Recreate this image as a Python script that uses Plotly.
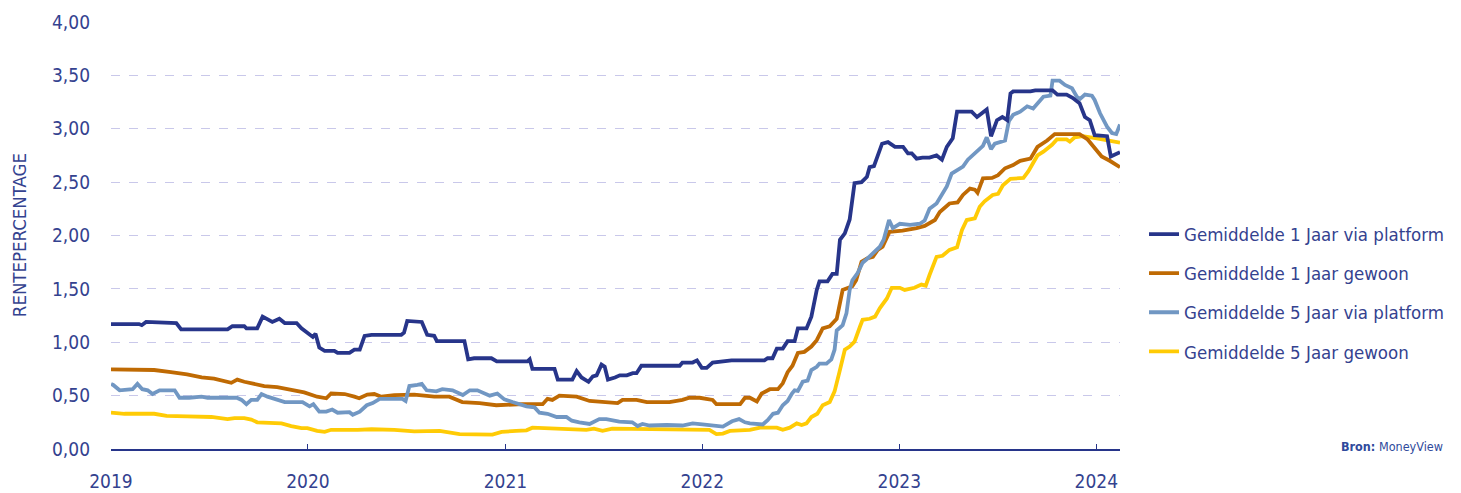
import plotly.graph_objects as go

# ---------------- data ----------------
dates_1y_platform = [
    "2019-01-01", "2019-02-22", "2019-02-27", "2019-03-07", "2019-05-02", "2019-05-11",
    "2019-08-05", "2019-08-14", "2019-09-05", "2019-09-09", "2019-09-29", "2019-10-09",
    "2019-10-27", "2019-11-09", "2019-11-19", "2019-12-11", "2019-12-20", "2020-01-04",
    "2020-01-10", "2020-01-15", "2020-01-22", "2020-02-01", "2020-02-19", "2020-02-25",
    "2020-03-18", "2020-03-27", "2020-04-06", "2020-04-15", "2020-04-28", "2020-06-22",
    "2020-06-27", "2020-07-03", "2020-07-30", "2020-08-09", "2020-08-22", "2020-08-27",
    "2020-10-17", "2020-10-24", "2020-11-04", "2020-12-06", "2020-12-16", "2021-02-11",
    "2021-02-15", "2021-02-20", "2021-04-02", "2021-04-08", "2021-05-05", "2021-05-13",
    "2021-05-22", "2021-06-04", "2021-06-12", "2021-06-19", "2021-06-28", "2021-07-04",
    "2021-07-10", "2021-07-23", "2021-08-01", "2021-08-14", "2021-08-25", "2021-09-01",
    "2021-09-10", "2021-11-20", "2021-11-25", "2021-12-14", "2021-12-22", "2021-12-31",
    "2022-01-09", "2022-01-20", "2022-02-15", "2022-02-24", "2022-04-26", "2022-05-02",
    "2022-05-11", "2022-05-19", "2022-05-30", "2022-06-08", "2022-06-21", "2022-06-27",
    "2022-07-13", "2022-07-22", "2022-08-01", "2022-08-06", "2022-08-21", "2022-08-30",
    "2022-09-07", "2022-09-13", "2022-09-22", "2022-10-01", "2022-10-10", "2022-10-23",
    "2022-11-02", "2022-11-07", "2022-11-15", "2022-11-22", "2022-11-30", "2022-12-11",
    "2022-12-24", "2023-01-08", "2023-01-17", "2023-01-24", "2023-02-02", "2023-02-13",
    "2023-02-26", "2023-03-11", "2023-03-21", "2023-03-30", "2023-04-10", "2023-04-18",
    "2023-05-15", "2023-05-25", "2023-06-03", "2023-06-12", "2023-06-20", "2023-07-01",
    "2023-07-11", "2023-07-20", "2023-07-26", "2023-07-31", "2023-09-01", "2023-09-10",
    "2023-10-12", "2023-10-21", "2023-11-07", "2023-11-18", "2023-12-01", "2023-12-11",
    "2023-12-20", "2023-12-29", "2024-01-21", "2024-01-28", "2024-02-14",
]
values_1y_platform = [
    1.17, 1.17, 1.16, 1.19, 1.18, 1.12,
    1.12, 1.15, 1.15, 1.13, 1.13, 1.24,
    1.19, 1.22, 1.18, 1.18, 1.13, 1.08,
    1.05, 1.08, 0.95, 0.92, 0.92, 0.90,
    0.90, 0.93, 0.93, 1.06, 1.07, 1.07,
    1.09, 1.20, 1.19, 1.07, 1.06, 1.01,
    1.01, 0.84, 0.85, 0.85, 0.82, 0.82,
    0.84, 0.75, 0.75, 0.65, 0.65, 0.73,
    0.67, 0.63, 0.68, 0.69, 0.79, 0.77,
    0.65, 0.67, 0.69, 0.69, 0.71, 0.71,
    0.78, 0.78, 0.81, 0.81, 0.83, 0.76,
    0.76, 0.81, 0.82, 0.83, 0.83, 0.85,
    0.85, 0.94, 0.94, 1.01, 1.01, 1.13,
    1.13, 1.24, 1.49, 1.57, 1.57, 1.64,
    1.64, 1.96, 2.02, 2.15, 2.49, 2.50,
    2.55, 2.64, 2.65, 2.75, 2.86, 2.875,
    2.83, 2.83, 2.77, 2.77, 2.72, 2.73,
    2.73, 2.75, 2.71, 2.83, 2.91, 3.16,
    3.16, 3.11, 3.14, 3.18, 2.93, 3.08,
    3.11, 3.08, 3.33, 3.35, 3.35, 3.36,
    3.36, 3.32, 3.32, 3.29, 3.24, 3.11,
    3.08, 2.94, 2.93, 2.74, 2.78,
]

dates_1y_gewoon = [
    "2019-01-01", "2019-02-08", "2019-03-22", "2019-04-22", "2019-05-22", "2019-06-18",
    "2019-07-11", "2019-08-12", "2019-08-23", "2019-09-05", "2019-09-20", "2019-10-12",
    "2019-11-05", "2019-12-01", "2019-12-25", "2020-01-18", "2020-02-04", "2020-02-13",
    "2020-03-09", "2020-03-27", "2020-04-05", "2020-04-20", "2020-05-03", "2020-05-16",
    "2020-06-09", "2020-07-16", "2020-08-22", "2020-09-19", "2020-10-13", "2020-11-14",
    "2020-12-15", "2021-02-02", "2021-03-11", "2021-03-20", "2021-03-29", "2021-04-11",
    "2021-05-13", "2021-06-06", "2021-06-30", "2021-07-28", "2021-08-06", "2021-09-01",
    "2021-09-20", "2021-11-01", "2021-11-25", "2021-12-08", "2021-12-27", "2022-01-20",
    "2022-01-27", "2022-03-12", "2022-03-21", "2022-03-30", "2022-04-12", "2022-04-21",
    "2022-05-06", "2022-05-21", "2022-05-30", "2022-06-08", "2022-06-17", "2022-06-27",
    "2022-07-09", "2022-07-22", "2022-08-01", "2022-08-12", "2022-08-25", "2022-09-07",
    "2022-09-18", "2022-09-27", "2022-10-06", "2022-10-13", "2022-10-23", "2022-11-02",
    "2022-11-13", "2022-11-22", "2022-12-01", "2022-12-14", "2023-01-07", "2023-02-02",
    "2023-02-17", "2023-03-08", "2023-03-17", "2023-04-04", "2023-04-19", "2023-04-29",
    "2023-05-12", "2023-05-21", "2023-05-26", "2023-06-05", "2023-06-22", "2023-07-03",
    "2023-07-16", "2023-07-31", "2023-08-13", "2023-09-01", "2023-09-14", "2023-10-02",
    "2023-10-16", "2023-11-13", "2023-12-01", "2023-12-16", "2023-12-29", "2024-01-11",
    "2024-01-26", "2024-02-14",
]
values_1y_gewoon = [
    0.745, 0.745, 0.74, 0.72, 0.70, 0.67,
    0.66, 0.62, 0.65, 0.63, 0.61, 0.59,
    0.58, 0.55, 0.53, 0.49, 0.475, 0.52,
    0.515, 0.49, 0.475, 0.51, 0.515, 0.49,
    0.505, 0.51, 0.49, 0.49, 0.44, 0.43,
    0.41, 0.42, 0.42, 0.47, 0.46, 0.50,
    0.49, 0.45, 0.44, 0.43, 0.46, 0.46,
    0.44, 0.44, 0.46, 0.48, 0.48, 0.46,
    0.42, 0.42, 0.48, 0.48, 0.445, 0.52,
    0.56, 0.56, 0.615, 0.72, 0.78, 0.90,
    0.91, 0.96, 1.02, 1.13, 1.15, 1.22,
    1.49, 1.51, 1.525, 1.58, 1.755, 1.785,
    1.80, 1.865, 1.895, 2.035, 2.045, 2.07,
    2.09, 2.145, 2.22, 2.30, 2.31, 2.38,
    2.44, 2.43, 2.40, 2.535, 2.54, 2.565,
    2.63, 2.66, 2.70, 2.72, 2.83, 2.89,
    2.95, 2.95, 2.95, 2.90, 2.82, 2.74,
    2.70, 2.64,
]

dates_5y_platform = [
    "2019-01-01", "2019-01-05", "2019-01-17", "2019-02-10", "2019-02-19", "2019-02-28",
    "2019-03-10", "2019-03-19", "2019-04-01", "2019-04-29", "2019-05-08", "2019-05-26",
    "2019-06-18", "2019-06-29", "2019-08-22", "2019-08-31", "2019-09-09", "2019-09-18",
    "2019-09-29", "2019-10-07", "2019-10-18", "2019-10-31", "2019-11-19", "2019-12-22",
    "2020-01-04", "2020-01-11", "2020-01-22", "2020-02-04", "2020-02-15", "2020-02-25",
    "2020-03-18", "2020-03-24", "2020-04-06", "2020-04-19", "2020-04-30", "2020-05-13",
    "2020-06-24", "2020-06-30", "2020-07-07", "2020-07-22", "2020-07-30", "2020-08-08",
    "2020-08-26", "2020-09-06", "2020-09-25", "2020-10-14", "2020-10-27", "2020-11-10",
    "2020-12-03", "2020-12-17", "2020-12-30", "2021-01-14", "2021-02-09", "2021-02-24",
    "2021-03-05", "2021-03-20", "2021-04-06", "2021-04-24", "2021-05-04", "2021-05-18",
    "2021-06-06", "2021-06-24", "2021-07-07", "2021-07-31", "2021-08-24", "2021-09-03",
    "2021-09-12", "2021-09-25", "2021-10-27", "2021-11-25", "2021-12-14", "2022-01-01",
    "2022-01-20", "2022-02-08", "2022-02-25", "2022-03-10", "2022-03-21", "2022-03-30",
    "2022-04-23", "2022-05-02", "2022-05-12", "2022-05-21", "2022-05-30", "2022-06-08",
    "2022-06-16", "2022-06-21", "2022-06-27", "2022-07-06", "2022-07-15", "2022-07-22",
    "2022-08-01", "2022-08-06", "2022-08-19", "2022-08-28", "2022-09-03", "2022-09-07",
    "2022-09-18", "2022-09-25", "2022-10-01", "2022-10-06", "2022-10-16", "2022-10-25",
    "2022-11-02", "2022-11-13", "2022-11-26", "2022-12-03", "2022-12-09", "2022-12-13",
    "2022-12-20", "2023-01-02", "2023-01-21", "2023-02-08", "2023-02-17", "2023-02-26",
    "2023-03-11", "2023-03-21", "2023-03-30", "2023-04-08", "2023-04-18", "2023-04-29",
    "2023-05-08", "2023-05-25", "2023-06-05", "2023-06-12", "2023-06-20", "2023-06-27",
    "2023-07-16", "2023-07-23", "2023-07-31", "2023-08-13", "2023-08-26", "2023-09-06",
    "2023-09-14", "2023-09-25", "2023-10-08", "2023-10-12", "2023-10-25", "2023-11-04",
    "2023-11-17", "2023-11-26", "2023-12-02", "2023-12-11", "2023-12-24", "2023-12-29",
    "2024-01-08", "2024-01-21", "2024-01-30", "2024-02-07", "2024-02-14",
]
values_5y_platform = [
    0.61, 0.60, 0.55, 0.56, 0.61, 0.56,
    0.55, 0.515, 0.55, 0.55, 0.48, 0.48,
    0.49, 0.48, 0.48, 0.46, 0.42, 0.46,
    0.46, 0.515, 0.49, 0.47, 0.44, 0.44,
    0.40, 0.42, 0.35, 0.35, 0.37, 0.34,
    0.345, 0.32, 0.35, 0.41, 0.43, 0.47,
    0.47, 0.45, 0.59, 0.60, 0.61, 0.55,
    0.54, 0.56, 0.55, 0.505, 0.55, 0.55,
    0.50, 0.52, 0.465, 0.44, 0.40, 0.39,
    0.34, 0.33, 0.30, 0.30, 0.265, 0.25,
    0.235, 0.28, 0.28, 0.256, 0.25, 0.215,
    0.235, 0.22, 0.225, 0.22, 0.24, 0.23,
    0.22, 0.21, 0.26, 0.28, 0.25, 0.24,
    0.23, 0.27, 0.33, 0.34, 0.41, 0.45,
    0.52, 0.55, 0.545, 0.63, 0.64, 0.74,
    0.77, 0.80, 0.80, 0.84, 0.93, 1.11,
    1.16, 1.27, 1.49, 1.58, 1.65, 1.745,
    1.78, 1.83, 1.895, 1.96, 2.08, 2.145,
    2.07, 2.11, 2.10, 2.11, 2.14, 2.25,
    2.30, 2.38, 2.46, 2.58, 2.61, 2.645,
    2.71, 2.79, 2.84, 2.92, 2.81, 2.86,
    2.89, 3.07, 3.13, 3.16, 3.21, 3.19,
    3.24, 3.30, 3.31, 3.45, 3.45, 3.41,
    3.38, 3.30, 3.28, 3.32, 3.31, 3.27,
    3.145, 3.02, 2.96, 2.95, 3.04,
]

dates_5y_gewoon = [
    "2019-01-01", "2019-01-26", "2019-03-22", "2019-04-14", "2019-05-22", "2019-07-06",
    "2019-08-05", "2019-08-18", "2019-09-05", "2019-09-18", "2019-09-29", "2019-11-13",
    "2019-12-01", "2019-12-20", "2019-12-31", "2020-01-18", "2020-02-01", "2020-02-13",
    "2020-04-02", "2020-04-28", "2020-06-09", "2020-07-16", "2020-09-01", "2020-10-08",
    "2020-12-08", "2020-12-25", "2021-01-21", "2021-02-09", "2021-02-20", "2021-03-29",
    "2021-05-31", "2021-06-14", "2021-06-30", "2021-07-18", "2021-10-01", "2021-11-25",
    "2022-01-14", "2022-01-27", "2022-02-08", "2022-02-21", "2022-03-30", "2022-04-18",
    "2022-05-19", "2022-05-30", "2022-06-12", "2022-06-25", "2022-07-04", "2022-07-13",
    "2022-07-22", "2022-08-02", "2022-08-12", "2022-08-25", "2022-09-03", "2022-09-12",
    "2022-09-22", "2022-10-01", "2022-10-10", "2022-10-20", "2022-10-25", "2022-11-07",
    "2022-11-17", "2022-11-26", "2022-12-09", "2022-12-18", "2023-01-02", "2023-01-11",
    "2023-01-29", "2023-02-11", "2023-02-19", "2023-02-26", "2023-03-11", "2023-03-22",
    "2023-04-04", "2023-04-18", "2023-04-27", "2023-05-06", "2023-05-21", "2023-05-30",
    "2023-06-08", "2023-06-23", "2023-07-03", "2023-07-12", "2023-07-26", "2023-08-19",
    "2023-08-28", "2023-09-14", "2023-09-25", "2023-10-11", "2023-10-20", "2023-11-07",
    "2023-11-13", "2023-11-22", "2023-12-07", "2024-01-02", "2024-01-21", "2024-02-14",
]
values_5y_gewoon = [
    0.34, 0.33, 0.33, 0.31, 0.305, 0.30,
    0.28, 0.29, 0.29, 0.275, 0.25, 0.24,
    0.215, 0.195, 0.195, 0.17, 0.16, 0.18,
    0.18, 0.185, 0.18, 0.165, 0.17, 0.14,
    0.135, 0.16, 0.17, 0.175, 0.20, 0.19,
    0.18, 0.19, 0.17, 0.19, 0.185, 0.18,
    0.18, 0.14, 0.145, 0.17, 0.18, 0.20,
    0.20, 0.18, 0.20, 0.24, 0.225, 0.24,
    0.30, 0.33, 0.41, 0.44, 0.54, 0.72,
    0.93, 0.96, 1.005, 1.145, 1.21, 1.22,
    1.24, 1.32, 1.41, 1.51, 1.51, 1.49,
    1.51, 1.54, 1.53, 1.63, 1.80, 1.81,
    1.865, 1.89, 2.05, 2.145, 2.16, 2.27,
    2.32, 2.38, 2.39, 2.47, 2.53, 2.54,
    2.60, 2.75, 2.785, 2.85, 2.90, 2.90,
    2.88, 2.92, 2.93, 2.91, 2.895, 2.87,
]

series_names = [
    "Gemiddelde 1 Jaar via platform",
    "Gemiddelde 1 Jaar gewoon",
    "Gemiddelde 5 Jaar via platform",
    "Gemiddelde 5 Jaar gewoon",
]
series_colors = ["#27358a", "#bf6a03", "#7197c3", "#ffcb05"]

y_tick_values = [0, 0.5, 1.0, 1.5, 2.0, 2.5, 3.0, 3.5, 4.0]
y_tick_labels = ["0,00", "0,50", "1,00", "1,50", "2,00", "2,50", "3,00", "3,50", "4,00"]
x_tick_values = ["2019-01-01", "2020-01-01", "2021-01-01", "2022-01-01", "2023-01-01", "2024-01-01"]
x_tick_labels = ["2019", "2020", "2021", "2022", "2023", "2024"]

# ---------------- figure ----------------
FONT = "DejaVu Sans Condensed, Liberation Sans Narrow, Arial Narrow, sans-serif"
TEXT = "#34428f"

all_dates = [dates_1y_platform, dates_1y_gewoon, dates_5y_platform, dates_5y_gewoon]
all_values = [values_1y_platform, values_1y_gewoon, values_5y_platform, values_5y_gewoon]

fig = go.Figure()
# draw order: yellow bottom ... navy on top (as in reference)
order = [3, 1, 2, 0]
for i in order:
    fig.add_trace(go.Scatter(
        x=all_dates[i], y=all_values[i], mode="lines", name=series_names[i],
        line=dict(color=series_colors[i], width=3.8),
        legendgroup=f"g{i}", legendrank=i + 1,
        hoverinfo="skip",
    ))

fig.update_layout(
    width=1461, height=493,
    margin=dict(l=103, r=349, t=14, b=52, autoexpand=False),
    paper_bgcolor="white", plot_bgcolor="white",
    font=dict(family=FONT, color=TEXT, size=18),
    showlegend=True,
    legend=dict(
        x=1.0238, xanchor="left", y=0.365, yanchor="middle",
        traceorder="grouped", tracegroupgap=12,
        font=dict(family=FONT, size=18.5, color=TEXT),
        bgcolor="rgba(0,0,0,0)",
    ),
    xaxis=dict(
        type="date",
        range=["2019-01-01", "2024-02-14"],
        tickvals=x_tick_values, ticktext=x_tick_labels,
        showgrid=False, zeroline=False,
        showline=True, linecolor="#27358a", linewidth=2,
        ticks="inside", ticklen=5, tickwidth=1, tickcolor="#27358a",
        ticklabelstandoff=14,
        tickfont=dict(family=FONT, size=19, color=TEXT),
    ),
    yaxis=dict(
        range=[0, 4], tickvals=y_tick_values, ticktext=y_tick_labels,
        showgrid=True, gridcolor="#c9c8ea", gridwidth=1, griddash="dash",
        zeroline=False, showline=False, ticks="",
        ticklabelstandoff=20,
        tickfont=dict(family=FONT, size=19, color=TEXT),
    ),
    annotations=[
        dict(text="RENTEPERCENTAGE", textangle=-90, xref="paper", yref="paper",
             x=-0.0905, y=0.5, xanchor="center", yanchor="middle", showarrow=False,
             borderpad=0,
             font=dict(family=FONT, size=18.5, color=TEXT)),
        dict(text="<b>Bron:</b> MoneyView", xref="paper", yref="paper",
             x=1.3221, y=0.0047, xanchor="right", yanchor="middle", showarrow=False,
             font=dict(family=FONT, size=12.5, color="#2f4a9c")),
    ],
)

fig.write_html("out.html")
